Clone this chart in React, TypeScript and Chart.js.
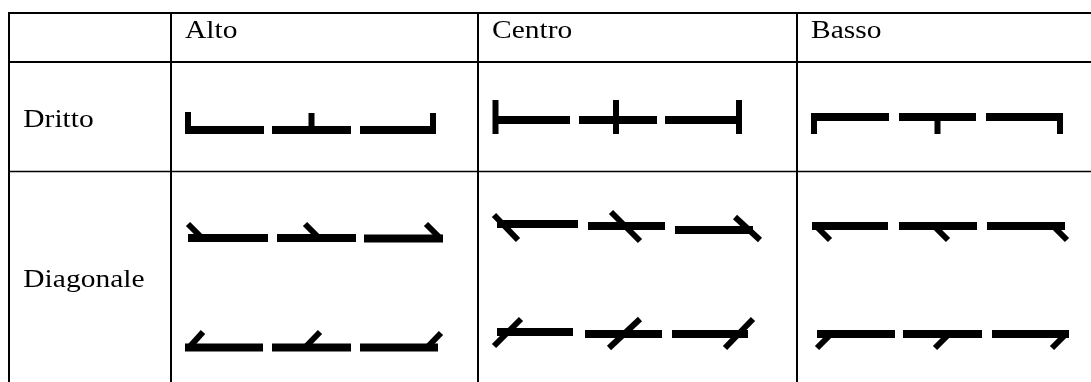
import React, { useEffect, useRef } from "react";
import { Chart, registerables } from "chart.js";

Chart.register(...registerables);

// ---- table content ----
const columns = ["Alto", "Centro", "Basso"];
const rowLabels = ["Dritto", "Diagonale"];

// table rules (chart units)
const columnRules = [9, 171, 478, 797];
const rowRules = [13, 62, 171.5, 386];
const tableRight = 1100;
const headerBaseline = 38.3;
const rowBaselines = [126.7, 286.7];

// glyph bars: [line: dritto, diagonale-1, diagonale-2][column][segment]
const barStart = [
  [[185, 272, 360], [493, 579, 665], [811, 899, 986]],
  [[188, 277, 364], [497, 588, 675], [812, 899, 987]],
  [[185, 272, 360], [497, 585, 672], [817, 903, 992]],
];
const barEnd = [
  [[264, 351, 436], [570, 657, 742], [889, 976, 1063]],
  [[268, 356, 443], [578, 665, 753], [888, 977, 1065]],
  [[263, 351, 438], [573, 662, 748], [895, 982, 1069]],
];
const barLevel = [
  [[130, 130, 130], [120, 120, 120], [117, 117, 117]],
  [[238, 238, 238.5], [224, 226, 230], [226, 226, 226]],
  [[347.5, 347.5, 347.5], [332, 334, 334], [334, 334, 334]],
];

// glyph ticks: one end (x1,y1) to the other (x2,y2)
const tickX1 = [
  [[188, 311.5, 433], [495.5, 616, 739], [814, 937.5, 1060]],
  [[188, 305, 426], [494, 611, 735], [816, 934, 1053]],
  [[189, 305, 427], [494, 609, 725], [831, 949, 1066]],
];
const tickY1 = [
  [[112, 113, 113], [100, 100, 100], [117, 117, 117]],
  [[224, 224, 224], [215, 212, 217], [226, 226, 226]],
  [[347.5, 347.5, 347.5], [346, 348, 348], [334, 334, 334]],
];
const tickX2 = [
  [[188, 311.5, 433], [495.5, 616, 739], [814, 937.5, 1060]],
  [[202, 319, 440], [518, 640, 760], [830, 948, 1067]],
  [[203, 320, 441], [521, 640, 753], [817, 935, 1052]],
];
const tickY2 = [
  [[134, 134, 134], [134, 134, 134], [134, 134, 134]],
  [[238, 238, 238], [240, 241, 240], [240, 240, 240]],
  [[332, 332, 333], [319, 319, 319], [348, 348, 348]],
];

const ruleWidths = [2, 2, 1.5, 2];

export default function App() {
  const ref = useRef<HTMLCanvasElement>(null);

  useEffect(() => {
    if (!ref.current) return;
    const common = {
      showLine: true,
      pointRadius: 0,
      pointHoverRadius: 0,
      borderColor: "#000",
      backgroundColor: "#000",
      borderCapStyle: "butt" as const,
      fill: false,
    };
    const datasets: any[] = [];

    // table rules
    rowRules.forEach((yv, i) => {
      datasets.push({
        ...common,
        borderWidth: ruleWidths[i],
        data: [
          { x: columnRules[0] - 1, y: yv },
          { x: tableRight, y: yv },
        ],
      });
    });
    columnRules.forEach((xv) => {
      datasets.push({
        ...common,
        borderWidth: 2,
        data: [
          { x: xv, y: rowRules[0] - 1 },
          { x: xv, y: rowRules[rowRules.length - 1] },
        ],
      });
    });

    // glyphs
    for (let l = 0; l < barStart.length; l++) {
      for (let c = 0; c < columns.length; c++) {
        for (let s = 0; s < 3; s++) {
          datasets.push({
            ...common,
            borderWidth: 8,
            data: [
              { x: barStart[l][c][s], y: barLevel[l][c][s] },
              { x: barEnd[l][c][s], y: barLevel[l][c][s] },
            ],
          });
          datasets.push({
            ...common,
            borderWidth: 6,
            data: [
              { x: tickX1[l][c][s], y: tickY1[l][c][s] },
              { x: tickX2[l][c][s], y: tickY2[l][c][s] },
            ],
          });
        }
      }
    }

    const labelPlugin = {
      id: "tableLabels",
      afterDatasetsDraw(chart: any) {
        const { ctx } = chart;
        const sx = chart.scales.x;
        const sy = chart.scales.y;
        ctx.save();
        ctx.fillStyle = "#000";
        ctx.font = '25px "Liberation Serif", "Times New Roman", serif';
        ctx.textBaseline = "alphabetic";
        ctx.textAlign = "left";
        const draw = (t: string, vx: number, vy: number) => {
          ctx.save();
          ctx.translate(sx.getPixelForValue(vx), sy.getPixelForValue(vy));
          ctx.scale(1.18, 1);
          ctx.fillText(t, 0, 0);
          ctx.restore();
        };
        columns.forEach((t, i) => draw(t, columnRules[i + 1] + 14, headerBaseline));
        rowLabels.forEach((t, i) => draw(t, columnRules[0] + 14.3, rowBaselines[i]));
        ctx.restore();
      },
    };

    const chart = new Chart(ref.current, {
      type: "scatter",
      data: { datasets },
      options: {
        animation: false,
        responsive: false,
        devicePixelRatio: 1,
        events: [],
        layout: { padding: 0 },
        plugins: { legend: { display: false }, tooltip: { enabled: false } },
        scales: {
          x: { type: "linear", min: 0, max: 1091, display: false },
          y: { type: "linear", min: 0, max: 382, reverse: true, display: false },
        },
      },
      plugins: [labelPlugin],
    });
    return () => chart.destroy();
  }, []);

  return (
    <canvas
      ref={ref}
      width={1091}
      height={382}
      style={{ position: "fixed", left: 0, top: 0, display: "block", background: "#fff" }}
    />
  );
}
